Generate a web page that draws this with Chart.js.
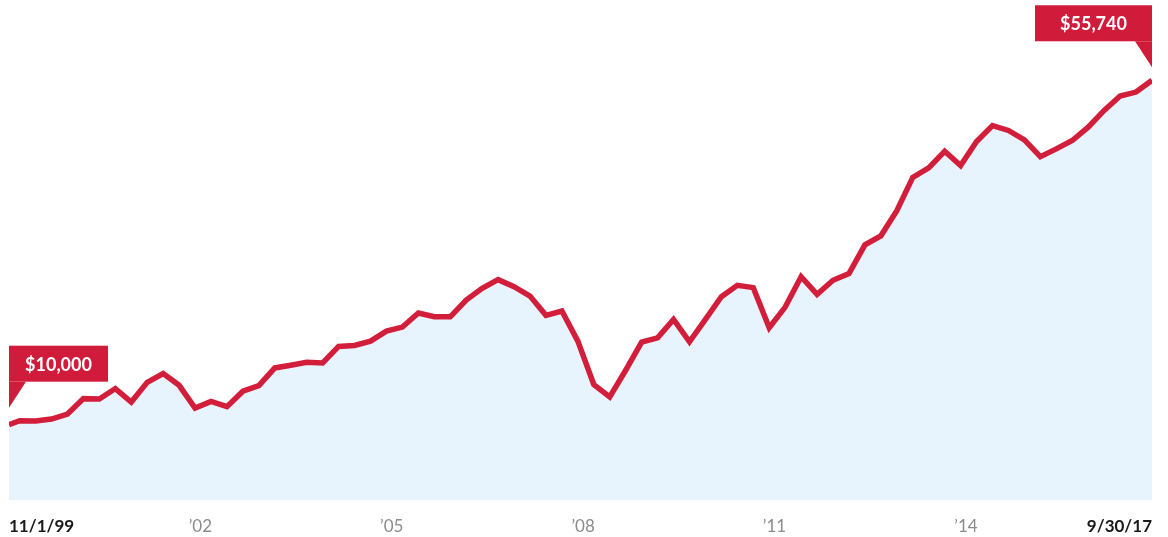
<!DOCTYPE html>
<html>
<head>
<meta charset="utf-8">
<script src="https://cdn.jsdelivr.net/npm/chart.js@4"></script>
<style>
  html, body { margin: 0; padding: 0; background: #fff; }
  #wrap { width: 1168px; height: 537px; }
</style>
</head>
<body>
<div id="wrap"><canvas id="growth"></canvas></div>
<script>
// months after 11/1/99 (start, then each quarter end up to 9/30/17)
const months = [0, 2, 5, 8, 11, 14, 17, 20, 23, 26, 29, 32, 35, 38, 41, 44, 47, 50, 53, 56,
  59, 62, 65, 68, 71, 74, 77, 80, 83, 86, 89, 92, 95, 98, 101, 104, 107, 110, 113, 116,
  119, 122, 125, 128, 131, 134, 137, 140, 143, 146, 149, 152, 155, 158, 161, 164, 167, 170, 173, 176,
  179, 182, 185, 188, 191, 194, 197, 200, 203, 206, 209, 212, 215];

// growth of $10,000
const values = [10000, 10530, 10480, 10750, 11410, 13460, 13410, 14800, 13010, 15630,
  16790, 15230, 12210, 13100, 12400, 14440, 15190, 17540, 17900, 18300,
  18200, 20390, 20520, 21100, 22430, 22960, 24830, 24330, 24330, 26560,
  28110, 29260, 28330, 27090, 24520, 25090, 21100, 15330, 13680, 17230,
  20960, 21540, 23990, 21000, 23990, 27000, 28510, 28200, 22870, 25620,
  29660, 27310, 29180, 30060, 33880, 35080, 38410, 42850, 44100, 46310,
  44410, 47600, 49730, 49070, 47830, 45600, 46630, 47740, 49510, 51730,
  53640, 54170, 55740];

const tickMonths = [0, 36, 72, 108, 144, 180, 215];
const tickLabels = ['11/1/99', '\u201902', '\u201905', '\u201908', '\u201911', '\u201914', '9/30/17'];

const red = '#d21e3b';
const isEnd = i => i === 0 || i === tickMonths.length - 1;

function money(v) {
  return '$' + v.toLocaleString('en-US');
}

// red flag with a little tail pointing at the point
function drawFlag(ctx, pt, v, side) {
  const w = side === 'left' ? 99 : 117;
  const h = 36;
  const tail = 17;
  const tipY = pt.y - (side === 'left' ? 17 : 13);
  const bottom = tipY - 26;
  const x0 = side === 'left' ? pt.x : pt.x - w;

  ctx.save();
  ctx.fillStyle = '#d01c3a';
  ctx.fillRect(x0, bottom - h, w, h);
  ctx.beginPath();
  if (side === 'left') {
    ctx.moveTo(pt.x, bottom);
    ctx.lineTo(pt.x + tail, bottom);
    ctx.lineTo(pt.x, tipY);
  } else {
    ctx.moveTo(pt.x - tail, bottom);
    ctx.lineTo(pt.x, bottom);
    ctx.lineTo(pt.x, tipY);
  }
  ctx.closePath();
  ctx.fill();

  ctx.fillStyle = '#fff';
  ctx.font = 'bold 18px Lato, "Open Sans", sans-serif';
  ctx.textAlign = 'center';
  ctx.textBaseline = 'middle';
  ctx.fillText(money(v), x0 + w / 2, bottom - h / 2 + 1);
  ctx.restore();
}

const callouts = {
  id: 'callouts',
  afterDatasetsDraw(chart) {
    const pts = chart.getDatasetMeta(0).data;
    drawFlag(chart.ctx, pts[0], values[0], 'left');
    drawFlag(chart.ctx, pts[pts.length - 1], values[values.length - 1], 'right');
  }
};

new Chart(document.getElementById('growth'), {
  type: 'line',
  data: {
    datasets: [{
      data: months.map((m, i) => ({ x: m, y: values[i] })),
      borderColor: red,
      borderWidth: 5.5,
      backgroundColor: '#e8f4fd',
      fill: 'start',
      pointRadius: 0,
      tension: 0
    }]
  },
  options: {
    responsive: true,
    maintainAspectRatio: false,
    animation: false,
    events: [],
    layout: {
      padding: { left: 9, right: 16, top: 3, bottom: 0 }
    },
    plugins: {
      legend: { display: false },
      tooltip: { enabled: false }
    },
    scales: {
      x: {
        type: 'linear',
        min: 0,
        max: 215,
        grid: { display: false, drawTicks: false },
        border: { display: false },
        afterBuildTicks: s => { s.ticks = tickMonths.map(v => ({ value: v })); },
        afterFit: s => { s.paddingLeft = 0; s.paddingRight = 0; s.height = 37; },
        ticks: {
          align: 'inner',
          padding: 16,
          autoSkip: false,
          maxRotation: 0,
          callback: v => tickLabels[tickMonths.indexOf(v)],
          color: c => isEnd(c.index) ? '#1a1a1a' : '#8c8c8c',
          font: c => ({ family: 'Lato, "Open Sans", sans-serif', size: 17, weight: isEnd(c.index) ? 'bold' : 'normal' })
        }
      },
      y: {
        display: false,
        min: 0,
        max: 66000
      }
    }
  },
  plugins: [callouts]
});
</script>
</body>
</html>
